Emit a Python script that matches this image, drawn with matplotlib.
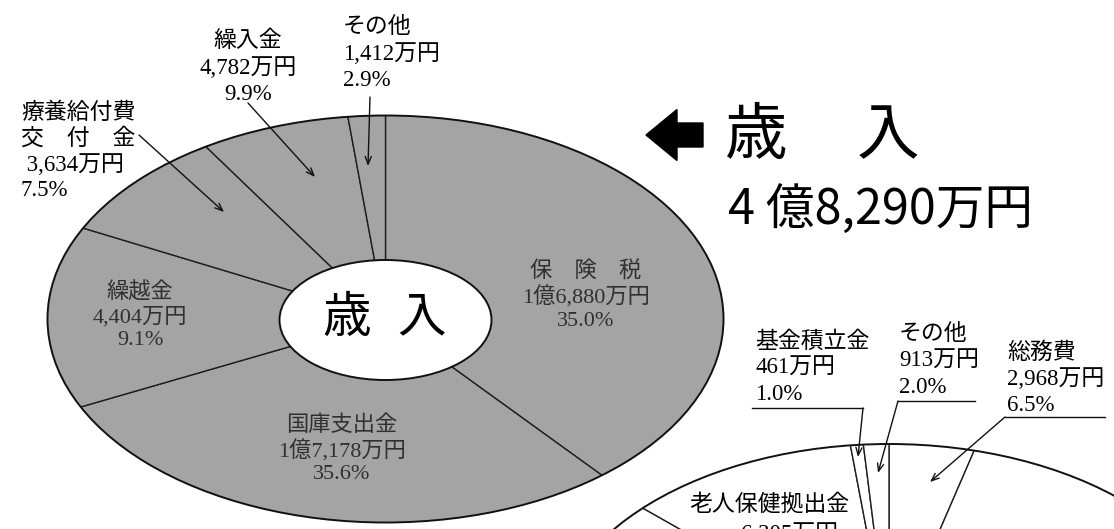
import matplotlib
matplotlib.use("Agg")
import matplotlib.pyplot as plt
from matplotlib.patches import Ellipse

# ---------------- data ----------------
# 歳入 (revenue), 万円, clockwise from 12 o'clock
rev_names = ["保険税", "国庫支出金", "繰越金", "療養給付費交付金", "繰入金", "その他"]
rev_values = [16880, 17178, 4404, 3634, 4782, 1412]
rev_pcts = [35.0, 35.6, 9.1, 7.5, 9.9, 2.9]
rev_amounts = ["1億6,880万円", "1億7,178万円", "4,404万円", "3,634万円", "4,782万円", "1,412万円"]
rev_display = ["保　険　税", "国庫支出金", "繰越金", "療養給付費\n交　付　金", "繰入金", "その他"]
rev_title = "歳　入"
rev_total = "4億8,290万円"

# 歳出 (expenditure), %, clockwise from 12 o'clock (only the top part is visible)
exp_names = ["総務費", "(図外の項目)", "老人保健拠出金", "基金積立金", "その他"]
exp_pcts = [6.5, 76.7, 13.8, 1.0, 2.0]
exp_amounts = ["2,968万円", "", "6,305万円", "461万円", "913万円"]

# ---------------- layout ----------------
W, H = 1114, 529
GRAY = "#a4a4a4"
SERIF = ["Liberation Serif", "Noto Sans CJK JP"]
GOTHIC = ["Noto Sans CJK JP", "DejaVu Sans"]
FS = 16.5


def P(x, y):
    """pixel (top-left origin) -> data coords"""
    return (x, H - y)


fig = plt.figure(figsize=(W / 100, H / 100), dpi=100)
ax = fig.add_axes([0, 0, 1, 1])

EW, EH = 676, 407          # outer ellipse size
IW, IH = 212, 120          # hole size

# ---- revenue donut ----
c1 = P(385.5, 319)
w1, _ = ax.pie(rev_values, radius=450, center=c1, startangle=90, counterclock=False,
               colors=[GRAY] * len(rev_values),
               wedgeprops=dict(edgecolor="#1e1e1e", linewidth=1.0), frame=False)
clip1 = Ellipse(c1, EW, EH, transform=ax.transData)
for w in w1:
    w.set_clip_on(True)
    w.set_clip_path(clip1)
ax.add_patch(Ellipse(c1, EW, EH, facecolor="none", edgecolor="#111111", lw=1.4, zorder=3))
ax.add_patch(Ellipse(P(385.5, 320), IW, IH, facecolor="white", edgecolor="#111111", lw=1.4, zorder=3))
ax.text(*P(347, 318), "歳", fontsize=35, family=GOTHIC, ha="center", va="center", zorder=4)
ax.text(*P(422, 318), "入", fontsize=35, family=GOTHIC, ha="center", va="center", zorder=4)

# ---- expenditure donut (top part only) ----
c2 = P(889, 647.5)
w2, _ = ax.pie(exp_pcts, radius=450, center=c2, startangle=90, counterclock=False,
               colors=["white"] * len(exp_pcts),
               wedgeprops=dict(edgecolor="#1e1e1e", linewidth=1.0), frame=False)
clip2 = Ellipse(c2, EW, EH, transform=ax.transData)
for w in w2:
    w.set_clip_on(True)
    w.set_clip_path(clip2)
ax.add_patch(Ellipse(c2, EW, EH, facecolor="none", edgecolor="#111111", lw=1.4, zorder=3))

# ---- labels inside revenue donut ----
inside = {0: (586, 296), 1: (342, 450), 2: (140, 316)}
for i, (x, y) in inside.items():
    ax.text(*P(x, y), f"{rev_display[i]}\n{rev_amounts[i]}\n{rev_pcts[i]:.1f}%",
            fontsize=16, family=SERIF, color="#303030", ha="center", va="center",
            linespacing=1.22, zorder=5)

# ---- labels outside revenue donut ----
ax.text(*P(248, 68), f"{rev_display[4]}\n{rev_amounts[4]}\n{rev_pcts[4]:.1f}%",
        fontsize=FS, family=SERIF, ha="center", va="center", linespacing=1.3)
ax.text(*P(343, 54), f"{rev_display[5]}\n{rev_amounts[5]}\n{rev_pcts[5]:.1f}%",
        fontsize=FS, family=SERIF, ha="left", va="center", linespacing=1.3)
ax.text(*P(21, 152), f"{rev_display[3]}\n {rev_amounts[3]}\n{rev_pcts[3]:.1f}%",
        fontsize=FS, family=SERIF, ha="left", va="center", linespacing=1.26)

arrow = dict(arrowstyle="->,head_length=0.55,head_width=0.22", lw=1.0, color="#111111",
             shrinkA=0, shrinkB=0)
ax.annotate("", xy=P(315, 177), xytext=P(248, 103), arrowprops=arrow, zorder=6)
ax.annotate("", xy=P(368, 166), xytext=P(370, 97), arrowprops=arrow, zorder=6)
ax.annotate("", xy=P(224, 212), xytext=P(139, 135), arrowprops=arrow, zorder=6)

# ---- title ----
ax.arrow(*P(703, 135), -57, 0, width=24, head_width=51, head_length=31,
         length_includes_head=True, fc="black", ec="black")
ax.text(*P(756, 136), "歳", fontsize=45, family=GOTHIC, ha="center", va="center")
ax.text(*P(888, 136), "入", fontsize=45, family=GOTHIC, ha="center", va="center")
ax.text(*P(881, 211), "4 " + rev_total[1:], fontsize=35, family=GOTHIC,
        ha="center", va="center")

# ---- labels of expenditure donut ----
ax.text(*P(755, 368), f"{exp_names[3]}\n{exp_amounts[3]}\n{exp_pcts[3]:.1f}%",
        fontsize=FS, family=SERIF, ha="left", va="center", linespacing=1.33)
ax.text(*P(899, 361), f"{exp_names[4]}\n{exp_amounts[4]}\n{exp_pcts[4]:.1f}%",
        fontsize=FS, family=SERIF, ha="left", va="center", linespacing=1.33)
ax.text(*P(1007, 379), f"{exp_names[0]}\n{exp_amounts[0]}\n{exp_pcts[0]:.1f}%",
        fontsize=FS, family=SERIF, ha="left", va="center", linespacing=1.3)
ax.text(*P(769, 505), exp_names[2], fontsize=FS, family=SERIF, ha="center", va="center")
ax.text(*P(790, 534), exp_amounts[2], fontsize=FS, family=SERIF, ha="center", va="center")

ax.plot(*zip(P(752, 408), P(863, 408)), color="#111111", lw=1.0)
ax.annotate("", xy=P(858, 457), xytext=P(863, 408), arrowprops=arrow, zorder=6)
ax.plot(*zip(P(898, 401), P(975, 401)), color="#111111", lw=1.0)
ax.annotate("", xy=P(878, 473), xytext=P(898, 401), arrowprops=arrow, zorder=6)
ax.plot(*zip(P(1005, 417), P(1105, 417)), color="#111111", lw=1.0)
ax.annotate("", xy=P(930, 482), xytext=P(1005, 417), arrowprops=arrow, zorder=6)

ax.set_xlim(0, W)
ax.set_ylim(0, H)
ax.set_aspect("auto")
ax.axis("off")
fig.savefig("out.png", dpi=100, facecolor="white")
